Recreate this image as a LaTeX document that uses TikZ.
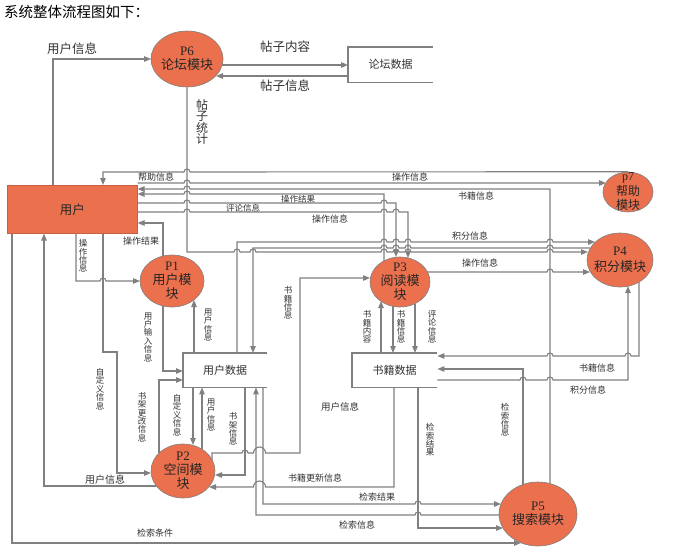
\documentclass[tikz,border=0pt]{standalone}
\usepackage{fontspec}
\setmainfont{Noto Sans CJK SC}
\newfontfamily\lser{Liberation Serif}
\usetikzlibrary{arrows.meta,shapes.geometric}
\definecolor{org}{RGB}{235,112,77}
\definecolor{lnc}{RGB}{128,128,128}
\definecolor{txc}{RGB}{50,50,50}
\newcommand{\jumpR}[2]{-- ({#1-3},#2) arc[start angle=180,end angle=360,radius=3]}
\newcommand{\jumpL}[2]{-- ({#1+3},#2) arc[start angle=0,end angle=-180,radius=3]}
\newcommand{\jumpRW}[2]{-- ({#1-6},#2) arc[start angle=180,end angle=360,radius=6]}
\newcommand{\jumpLW}[2]{-- ({#1+6},#2) arc[start angle=0,end angle=-180,radius=6]}
\tikzset{
 conn/.style={draw=lnc, line width=1.1pt, -{Triangle[length=7pt,width=5.5pt]}},
 plainline/.style={draw=lnc, line width=1.1pt},
 proc/.style={ellipse, fill=org, draw=lnc, line width=0.6pt, inner sep=0pt},
 ptext/.style={align=center, inner sep=0pt, text=black!85, font=\fontsize{13}{14}\selectfont},
 hlab/.style={inner sep=0pt, text=txc, font=\fontsize{9}{9}\selectfont},
 vlab/.style={inner sep=0pt, text=txc, align=center, font=\fontsize{8.5}{8.4}\selectfont},
 blab/.style={inner sep=0pt, text=txc, font=\fontsize{12.5}{12.5}\selectfont},
 store/.style={inner sep=0pt, anchor=north west},
}
\begin{document}
\begin{tikzpicture}[x=1pt,y=-1pt]
\useasboundingbox (0,0) rectangle (678,557);
\fill[white] (0,0) rectangle (678,557);

\node[anchor=west, inner sep=0, font=\fontsize{14.5}{14.5}\selectfont] (title) at (4,12) {系统整体流程图如下：};

% ---- entity and stores
\node[store, fill=org, draw=org!85!black, line width=0.6pt, minimum width=130pt, minimum height=48pt,
      font=\fontsize{12.5}{13}\selectfont, text=black!85] (user) at (7,185) {用户};

\node[store, minimum width=85pt, minimum height=35pt] (forum) at (348,47) {};
\draw[plainline] (forum.north east) -- (forum.north west) -- (forum.south west) -- (forum.south east);
\node[inner sep=0, font=\fontsize{11}{11}\selectfont, text=txc] (forumt) at (forum) {论坛数据};

\node[store, minimum width=84pt, minimum height=34pt] (ud) at (183,353) {};
\draw[plainline] (ud.north east) -- (ud.north west) -- (ud.south west) -- (ud.south east);
\node[inner sep=0, font=\fontsize{11}{11}\selectfont, text=txc] (udt) at (ud) {用户数据};

\node[store, minimum width=85pt, minimum height=34pt] (bd) at (352,353) {};
\draw[plainline] (bd.north east) -- (bd.north west) -- (bd.south west) -- (bd.south east);
\node[inner sep=0, font=\fontsize{11}{11}\selectfont, text=txc] (bdt) at (bd) {书籍数据};

% ---- processes
\node[proc, minimum width=72pt, minimum height=56pt] (P6) at (187,59) {};
\node[ptext] (P6t) at (P6) {{\lser P6}\\论坛模块};
\node[proc, minimum width=50pt, minimum height=40pt] (P7) at (628,192) {};
\node[ptext, font=\fontsize{12}{14.5}\selectfont] (P7t) at (P7) {{\lser p7}\\帮助\\模块};
\node[proc, minimum width=66pt, minimum height=54pt] (P4) at (620,260) {};
\node[ptext, font=\fontsize{13}{16}\selectfont] (P4t) at (P4) {{\lser P4}\\积分模块};
\node[proc, minimum width=64pt, minimum height=52pt] (P1) at (172,281) {};
\node[ptext] (P1t) at (P1) {{\lser P1}\\用户模\\块};
\node[proc, minimum width=60pt, minimum height=50pt] (P3) at (400,282) {};
\node[ptext] (P3t) at (P3) {{\lser P3}\\阅读模\\块};
\node[proc, minimum width=64pt, minimum height=54pt] (P2) at (183,471) {};
\node[ptext] (P2t) at (P2) {{\lser P2}\\空间模\\块};
\node[proc, minimum width=78pt, minimum height=64pt] (P5) at (538,514) {};
\node[ptext] (P5t) at (P5) {{\lser P5}\\搜索模块};

% ---- forum connectors
\draw[conn] (user.north -| 53,0) |- (151,59);
\node[blab] (L1) at (72,49) {用户信息};
\draw[conn] (222,65) -- (forum.west |- 0,65);
\node[blab] (L2) at (285,47) {帖子内容};
\draw[conn] (forum.west |- 0,76) -- (216,76);
\node[blab] (L3) at (285,86) {帖子信息};
\draw[conn] (P6.south) -- (187,252) \jumpR{237}{252} \jumpR{253}{252} \jumpR{384}{252} \jumpR{396}{252} \jumpR{408}{252} \jumpR{550}{252} -- (588,252);
\node[vlab, font=\fontsize{12}{11.5}\selectfont] (L4) at (202,122) {帖\\子\\统\\计};

% ---- top bundle at user box
\draw[conn] (P7.north) \jumpL{187}{172} -- (103,172) -- (user.north -| 103,0);
\node[hlab] (L5) at (156,177.5) {帮助信息};
\draw[conn] (user.east |- 0,183) \jumpR{187}{183} -- (606,183);
\node[hlab] (L6) at (410,177) {操作信息};
\draw[conn] (550,484) -- (550,189) \jumpL{187}{189} -- (user.east |- 0,189);
\node[hlab] (L7) at (476,196) {书籍信息};
\draw[conn] (384,261) -- (384,194) \jumpL{187}{194} -- (user.east |- 0,194);
\node[hlab, font=\fontsize{8.5}{8.5}\selectfont] (L8) at (298,199) {操作结果};
\draw[conn] (user.east |- 0,203) \jumpR{187}{203} \jumpR{384}{203} -- (396,203) -- (396,257);
\node[hlab, font=\fontsize{8.5}{8.5}\selectfont] (L9) at (243,208.5) {评论信息};
\draw[conn] (user.east |- 0,212) \jumpR{187}{212} \jumpR{384}{212} \jumpR{396}{212} -- (408,212) -- (408,258);
\node[hlab] (L10) at (330,219) {操作信息};

% ---- P4 bundle
\draw[conn] (ud.north -| 237,0) -- (237,242) \jumpR{384}{242} \jumpR{396}{242} \jumpR{408}{242} \jumpR{550}{242} -- (595,242);
\node[hlab] (L11) at (470,236.5) {积分信息};
\draw[conn] (590,248) \jumpL{550}{248} \jumpL{408}{248} \jumpL{396}{248} \jumpL{384}{248} -- (253,248) -- (ud.north -| 253,0);
\draw[conn] (427,272) \jumpR{550}{272} -- (590,272);
\node[hlab] (L12) at (480,263) {操作信息};

% ---- P1
\draw[conn] (user.south -| 76,0) -- (76,281) \jumpR{103}{281} -- (140,281);
\node[vlab] (L13) at (83,256) {操\\作\\信\\息};
\draw[conn] (163,256) -- (163,223) -- (user.east |- 0,223);
\node[hlab] (L14) at (141,241) {操作结果};
\draw[conn] (163,306) -- (163,371) -- (ud.west |- 0,371);
\node[vlab] (L15) at (148,337) {用\\户\\输\\入\\信\\息};
\draw[conn] (ud.north -| 194,0) -- (194,300);
\node[vlab] (L16) at (208,325) {用\\户\\信\\息};

% ---- P2
\draw[conn] (user.south -| 103,0) -- (103,352) -- (117,352) -- (117,473) -- (151,473);
\node[vlab] (L17) at (100,389) {自\\定\\义\\信\\息};
\draw[conn] (156,486) -- (44,486) -- (user.south -| 44,0);
\node[hlab, font=\fontsize{10}{10}\selectfont] (L18) at (105,480) {用户信息};
\draw[conn] (159,453) -- (159,380) -- (ud.west |- 0,380);
\node[vlab] (L19) at (142,417) {书\\架\\更\\改\\信\\息};
\draw[conn] (ud.south -| 193,0) -- (193,445);
\node[vlab] (L20) at (177,415) {自\\定\\义\\信\\息};
\draw[conn] (202,449) -- (ud.south -| 202,0);
\node[vlab] (L21) at (211,415) {用\\户\\信\\息};
\draw[conn] (ud.south -| 245,0) -- (245,475) -- (215,475);
\node[vlab] (L22) at (233,429) {书\\架\\信\\息};
\draw[conn] (212,460) -- (212,453) \jumpR{245}{453} \jumpRW{259.5}{453} -- (300,453) -- (300,278) -- (370,278);
\node[vlab] (L23) at (288,303) {书\\籍\\信\\息};
\draw[conn] (bd.south -| 394,0) -- (394,487) \jumpLW{259.5}{487} -- (209,487);
\node[hlab] (L24) at (315,478) {书籍更新信息};

% ---- P3 / book data
\draw[conn] (bd.north -| 381,0) -- (381,301);
\node[vlab] (L25) at (367,327) {书\\籍\\内\\容};
\draw[conn] (393,306) -- (bd.north -| 393,0);
\node[vlab] (L26) at (401,327) {书\\籍\\信\\息};
\draw[conn] (415,304) -- (bd.north -| 415,0);
\node[vlab] (L27) at (432,327) {评\\论\\信\\息};
\draw[conn] (639,282) -- (639,356) \jumpL{628}{356} \jumpL{550}{356} -- (bd.east |- 0,356);
\node[hlab] (L28) at (597,368) {书籍信息};
\draw[conn] (bd.east |- 0,380) \jumpR{523}{380} \jumpR{550}{380} -- (628,380) -- (628,286);
\node[hlab] (L29) at (588,390) {积分信息};

% ---- P5
\draw[conn] (523,485) -- (523,369) -- (bd.east |- 0,369);
\node[vlab] (L30) at (505,420) {检\\索\\信\\息};
\draw[conn] (bd.south -| 418,0) -- (418,528) -- (503,528);
\node[vlab] (L31) at (430,440) {检\\索\\结\\果};
\draw[conn] (ud.south -| 263,0) -- (263,504) \jumpR{418}{504} -- (501,504);
\node[hlab] (L32) at (377,497) {检索结果};
\draw[conn] (499,515) \jumpL{418}{515} -- (256,515) -- (ud.south -| 256,0);
\node[hlab] (L33) at (357,525) {检索信息};
\draw[conn] (user.south -| 12,0) -- (12,543) -- (521,543);
\node[hlab] (L34) at (155,533) {检索条件};
\node[hlab, font=\fontsize{9.5}{9.5}\selectfont] (L35) at (340,407) {用户信息};

\end{tikzpicture}
\end{document}
